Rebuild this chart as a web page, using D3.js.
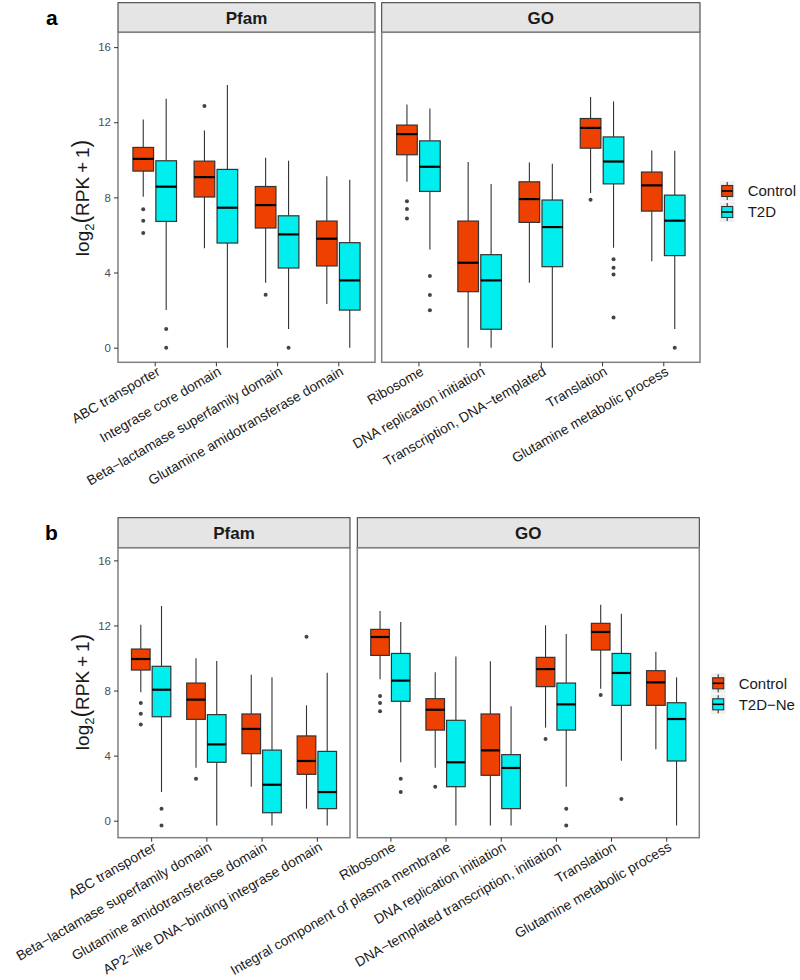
<!DOCTYPE html>
<html><head><meta charset="utf-8">
<script src="https://cdn.jsdelivr.net/npm/d3@7/dist/d3.min.js"></script>
<style>
body{margin:0;background:#fff;}
svg{display:block;font-family:"Liberation Sans",Arial,sans-serif;}
</style></head>
<body>
<svg id="chart" width="800" height="980"></svg>
<script>
// ---------- DATA ----------
const groupsA = ["Control", "T2D"];
const groupsB = ["Control", "T2D\u2212Ne"];
const yTicks = [0, 4, 8, 12, 16];

const pfamCatsA = ["ABC transporter", "Integrase core domain", "Beta\u2212lactamase superfamily domain", "Glutamine amidotransferase domain"];
const goCatsA = ["Ribosome", "DNA replication initiation", "Transcription, DNA\u2212templated", "Translation", "Glutamine metabolic process"];
const pfamCatsB = ["ABC transporter", "Beta\u2212lactamase superfamily domain", "Glutamine amidotransferase domain", "AP2\u2212like DNA\u2212binding integrase domain"];
const goCatsB = ["Ribosome", "Integral component of plasma membrane", "DNA replication initiation", "DNA\u2212templated transcription, initiation", "Translation", "Glutamine metabolic process"];

// stats: [lower whisker, Q1, median, Q3, upper whisker]
const pfamA_control = [[8.03, 9.40, 10.05, 10.66, 12.15], [5.29, 8.02, 9.08, 9.93, 11.56], [3.46, 6.37, 7.59, 8.58, 10.11], [2.32, 4.35, 5.80, 6.74, 9.12]];
const pfamA_control_out = [[7.37, 6.76, 6.10], [12.86], [2.82], []];
const pfamA_t2d = [[2.0, 6.72, 8.57, 9.95, 13.25], [0, 5.57, 7.45, 9.49, 13.99], [0.99, 4.24, 6.03, 7.02, 9.95], [0, 2.0, 3.58, 5.59, 8.94]];
const pfamA_t2d_out = [[0.99, 0], [], [0], []];

const goA_control = [[8.83, 10.27, 11.37, 11.85, 12.95], [0, 2.98, 4.52, 6.74, 9.89], [3.46, 6.67, 7.91, 8.83, 9.86], [8.24, 10.62, 11.70, 12.20, 13.35], [4.60, 7.27, 8.64, 9.35, 10.50]];
const goA_control_out = [[7.80, 7.38, 6.88], [], [], [7.87], []];
const goA_t2d = [[5.23, 8.32, 9.63, 11.01, 12.73], [0, 0.98, 3.58, 4.95, 8.71], [0, 4.31, 6.42, 7.86, 9.79], [5.32, 8.72, 9.91, 11.22, 13.11], [0.99, 4.90, 6.76, 8.12, 10.48]];
const goA_t2d_out = [[3.81, 2.80, 1.99], [], [], [4.70, 4.26, 3.90, 1.60], [0]];

const pfamB_control = [[7.89, 9.26, 9.94, 10.55, 12.05], [3.26, 6.23, 7.44, 8.46, 9.98], [2.09, 4.12, 5.64, 6.56, 8.97], [0.74, 2.85, 3.67, 5.21, 7.09]];
const pfamB_control_out = [[7.23, 6.58, 5.92], [2.58], [], [11.31]];
const pfamB_ne = [[1.76, 6.39, 8.05, 9.49, 13.20], [-0.29, 3.59, 4.69, 6.52, 9.82], [-0.29, 0.49, 2.21, 4.34, 8.81], [-0.29, 0.74, 1.76, 4.26, 9.10]];
const pfamB_ne_out = [[0.74, -0.29], [], [], []];

const goB_control = [[8.69, 10.16, 11.29, 11.76, 12.89], [3.26, 5.57, 6.82, 7.50, 9.12], [-0.29, 2.79, 4.32, 6.56, 9.80], [5.72, 8.24, 9.32, 10.04, 12.01], [8.11, 10.49, 11.60, 12.13, 13.28], [4.39, 7.09, 8.50, 9.22, 10.39]];
const goB_control_out = [[7.66, 7.23, 6.72], [2.09], [], [5.02], [7.72], []];
const goB_ne = [[3.59, 7.34, 8.61, 10.28, 12.21], [-0.29, 2.09, 3.59, 6.17, 10.10], [-0.29, 0.74, 3.24, 4.06, 7.03], [2.09, 5.57, 7.15, 8.46, 11.48], [3.69, 7.09, 9.08, 10.28, 12.72], [-0.29, 3.67, 6.25, 7.25, 8.81]];
const goB_ne_out = [[2.58, 1.76], [], [], [0.74, -0.29], [1.33], []];

// ---------- STYLE ----------
const colors = ["#EE4000", "#00EEEE"];
const FONT = '"Liberation Sans",Arial,sans-serif';
const svg = d3.select("#chart");

function drawFacet(cfg) {
  const g = svg.append("g");
  const x = d3.scalePoint().domain(cfg.cats).range([cfg.x0, cfg.x1]).padding(0.6);
  const y = cfg.y;
  const step = x.step();
  const off = 0.1875 * step, bw = 0.3375 * step;

  // strip
  g.append("rect").attr("x", cfg.x0).attr("y", cfg.stripTop).attr("width", cfg.x1 - cfg.x0)
    .attr("height", cfg.plotTop - cfg.stripTop).attr("fill", "#e5e5e5").attr("stroke", "#333").attr("stroke-width", 1);
  g.append("text").attr("x", (cfg.x0 + cfg.x1) / 2).attr("y", (cfg.stripTop + cfg.plotTop) / 2 + 6)
    .attr("text-anchor", "middle").attr("font-size", 17).attr("font-weight", "bold").attr("fill", "#1a1a1a").text(cfg.title);

  // boxes
  cfg.series.forEach((s, si) => {
    const dx = si === 0 ? -off : off;
    s.stats.forEach((st, i) => {
      const cx = x(cfg.cats[i]) + dx;
      const bg = g.append("g");
      bg.append("line").attr("x1", cx).attr("x2", cx).attr("y1", y(st[3])).attr("y2", y(st[4])).attr("stroke", "#333").attr("stroke-width", 1.1);
      bg.append("line").attr("x1", cx).attr("x2", cx).attr("y1", y(st[1])).attr("y2", y(st[0])).attr("stroke", "#333").attr("stroke-width", 1.1);
      bg.append("rect").attr("x", cx - bw / 2).attr("y", y(st[3])).attr("width", bw).attr("height", y(st[1]) - y(st[3]))
        .attr("fill", colors[si]).attr("stroke", "#333").attr("stroke-width", 1.2);
      bg.append("line").attr("x1", cx - bw / 2).attr("x2", cx + bw / 2).attr("y1", y(st[2])).attr("y2", y(st[2]))
        .attr("stroke", "#000").attr("stroke-width", 2.2);
      s.out[i].forEach(v => {
        bg.append("circle").attr("cx", cx).attr("cy", y(v)).attr("r", 2).attr("fill", "#444");
      });
    });
  });

  // panel border
  g.append("rect").attr("x", cfg.x0).attr("y", cfg.plotTop).attr("width", cfg.x1 - cfg.x0)
    .attr("height", cfg.plotBot - cfg.plotTop).attr("fill", "none").attr("stroke", "#808080").attr("stroke-width", 1.5);

  // x axis
  const xa = g.append("g").attr("transform", `translate(0,${cfg.plotBot})`)
    .call(d3.axisBottom(x).tickSize(4).tickPadding(0).tickFormat(""));
  xa.select(".domain").remove();
  xa.selectAll(".tick line").attr("stroke", "#333").attr("stroke-width", 1);
  cfg.cats.forEach(c => {
    g.append("text").attr("transform", `translate(${x(c) + 1},${cfg.plotBot + 3}) rotate(-30)`)
      .attr("dy", "0.75em").attr("text-anchor", "end").attr("font-size", 13.8).attr("fill", "#1a1a1a").text(c);
  });

  // y axis
  if (cfg.yAxis) {
    const ya = g.append("g").attr("transform", `translate(${cfg.x0},0)`)
      .call(d3.axisLeft(y).tickValues(yTicks).tickSize(4).tickPadding(3));
    ya.select(".domain").remove();
    ya.selectAll(".tick line").attr("stroke", "#333");
    ya.selectAll(".tick text").attr("font-size", 11.5).attr("fill", "#4d4d4d").attr("font-family", FONT);
  }
}

function drawLegend(lx, cy, labels) {
  const lg = svg.append("g");
  labels.forEach((lab, i) => {
    const c = cy + i * 21;
    lg.append("rect").attr("x", lx - 2).attr("y", c - 10).attr("width", 15).attr("height", 20).attr("fill", "#f0f0f0");
    lg.append("line").attr("x1", lx + 5.5).attr("x2", lx + 5.5).attr("y1", c - 9).attr("y2", c + 9).attr("stroke", "#333").attr("stroke-width", 1.1);
    lg.append("rect").attr("x", lx).attr("y", c - 5.5).attr("width", 11).attr("height", 11).attr("fill", colors[i]).attr("stroke", "#333").attr("stroke-width", 1.1);
    lg.append("line").attr("x1", lx).attr("x2", lx + 11).attr("y1", c).attr("y2", c).attr("stroke", "#000").attr("stroke-width", 1.6);
    lg.append("text").attr("x", lx + 26).attr("y", c).attr("dy", "0.36em").attr("font-size", 15).attr("fill", "#1a1a1a").text(lab);
  });
}

function yTitle(cx, cy) {
  const t = svg.append("text").attr("transform", `translate(${cx},${cy}) rotate(-90)`).attr("text-anchor", "middle")
    .attr("font-size", 19).attr("fill", "#1a1a1a");
  t.append("tspan").text("log");
  t.append("tspan").attr("font-size", 13).attr("dy", 5).text("2");
  t.append("tspan").attr("dy", -5).attr("font-size", 23).text("(");
  t.append("tspan").text("RPK\u2009+\u20091");
  t.append("tspan").attr("font-size", 23).text(")");
}

// ---------- PANEL a ----------
const yA = d3.scaleLinear().domain([-0.78, 16.79]).range([362.3, 32.3]);
drawFacet({ cats: pfamCatsA, x0: 118, x1: 375, stripTop: 2.7, plotTop: 32.3, plotBot: 362.3, y: yA, title: "Pfam", yAxis: true,
  series: [{ stats: pfamA_control, out: pfamA_control_out }, { stats: pfamA_t2d, out: pfamA_t2d_out }] });
drawFacet({ cats: goCatsA, x0: 381.7, x1: 700, stripTop: 2.7, plotTop: 32.3, plotBot: 362.3, y: yA, title: "GO", yAxis: false,
  series: [{ stats: goA_control, out: goA_control_out }, { stats: goA_t2d, out: goA_t2d_out }] });
drawLegend(721.7, 191, groupsA);
yTitle(89, 198);
svg.append("text").attr("x", 46).attr("y", 25).attr("font-size", 21).attr("font-weight", "bold").attr("fill", "#000").text("a");

// ---------- PANEL b ----------
const yB = d3.scaleLinear().domain([-1.045, 16.78]).range([837.7, 547.7]);
drawFacet({ cats: pfamCatsB, x0: 118, x1: 350, stripTop: 517.7, plotTop: 547.7, plotBot: 837.7, y: yB, title: "Pfam", yAxis: true,
  series: [{ stats: pfamB_control, out: pfamB_control_out }, { stats: pfamB_ne, out: pfamB_ne_out }] });
drawFacet({ cats: goCatsB, x0: 357.3, x1: 699.3, stripTop: 517.7, plotTop: 547.7, plotBot: 837.7, y: yB, title: "GO", yAxis: false,
  series: [{ stats: goB_control, out: goB_control_out }, { stats: goB_ne, out: goB_ne_out }] });
drawLegend(712.7, 683.3, groupsB);
yTitle(89, 692);
svg.append("text").attr("x", 45).attr("y", 540).attr("font-size", 21).attr("font-weight", "bold").attr("fill", "#000").text("b");
</script>
</body></html>
